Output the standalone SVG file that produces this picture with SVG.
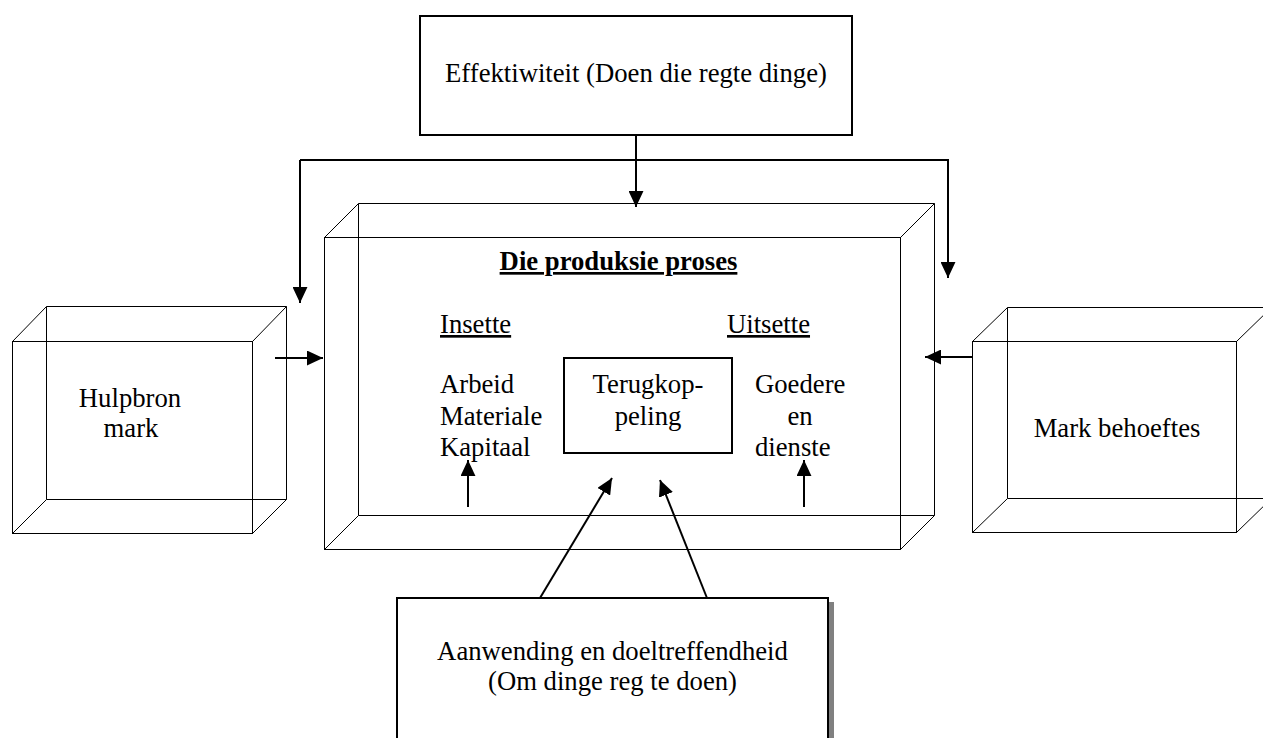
<svg xmlns="http://www.w3.org/2000/svg" width="1263" height="738" viewBox="0 0 1263 738">
  <defs>
    <marker id="arrow" markerUnits="userSpaceOnUse" markerWidth="16" markerHeight="15" viewBox="0 0 15 14" refX="15" refY="7" orient="auto">
      <path d="M0,0 L15,7 L0,14 Z" fill="#000"/>
    </marker>
    <style>
      text { font-family: "Liberation Serif", "Times New Roman", serif; font-size: 26.7px; fill: #000; }
      .mid { text-anchor: middle; }
      .ul { text-decoration: underline; }
      .bold { font-weight: bold; }
      .cube { fill: none; stroke: #000; stroke-width: 1; }
      .box { fill: #fff; stroke: #000; stroke-width: 2; }
      .conn { fill: none; stroke: #000; stroke-width: 2; marker-end: url(#arrow); }
    </style>
  </defs>
  <rect width="1263" height="738" fill="#fff"/>

  <!-- Effectiveness box -->
  <g id="effektiwiteit">
    <rect class="box" x="420" y="16" width="432" height="119"/>
    <text class="mid" x="636" y="82">Effektiwiteit (Doen die regte dinge)</text>
  </g>

  <!-- Central production process cube -->
  <g id="produksie-proses">
    <rect class="cube" x="324.5" y="237.5" width="576" height="312"/>
    <path class="cube" d="M358.5,203.5 H934.5 V515.5 H358.5 Z"/>
    <path class="cube" d="M324.5,237.5 L358.5,203.5 M900.5,237.5 L934.5,203.5 M900.5,549.5 L934.5,515.5 M324.5,549.5 L358.5,515.5"/>
    <text class="mid bold ul" x="618.5" y="270">Die produksie proses</text>
    <text class="ul" x="440" y="333">Insette</text>
    <text class="ul" x="727" y="333">Uitsette</text>
    <text x="440" y="393">Arbeid</text>
    <text x="440" y="425">Materiale</text>
    <text x="440" y="456">Kapitaal</text>
    <text x="755" y="393">Goedere</text>
    <text class="mid" x="800" y="425">en</text>
    <text x="755" y="456">dienste</text>
  </g>

  <!-- Feedback box -->
  <g id="terugkoppeling">
    <rect class="box" x="564" y="358" width="168" height="95"/>
    <text class="mid" x="648" y="393">Terugkop-</text>
    <text class="mid" x="648" y="425">peling</text>
  </g>

  <!-- Resource market cube -->
  <g id="hulpbron-mark">
    <rect class="cube" x="12.5" y="341.5" width="240" height="192"/>
    <path class="cube" d="M46.5,306.5 H286.5 V499.5 H46.5 Z"/>
    <path class="cube" d="M12.5,341.5 L46.5,306.5 M252.5,341.5 L286.5,306.5 M252.5,533.5 L286.5,499.5 M12.5,533.5 L46.5,499.5"/>
    <text class="mid" x="130" y="407">Hulpbron</text>
    <text class="mid" x="131" y="437">mark</text>
  </g>

  <!-- Market needs cube -->
  <g id="mark-behoeftes">
    <rect class="cube" x="972.5" y="341.5" width="264" height="191"/>
    <path class="cube" d="M1007.5,307.5 H1271.5 V498.5 H1007.5 Z"/>
    <path class="cube" d="M972.5,341.5 L1007.5,307.5 M1236.5,341.5 L1271.5,307.5 M1236.5,532.5 L1271.5,498.5 M972.5,532.5 L1007.5,498.5"/>
    <text class="mid" x="1117" y="437">Mark behoeftes</text>
  </g>

  <!-- Efficiency box with drop shadow -->
  <g id="aanwending">
    <rect x="829" y="602" width="5" height="140" fill="#808080"/>
    <rect class="box" x="397" y="598" width="431" height="150"/>
    <text class="mid" x="612.5" y="660">Aanwending en doeltreffendheid</text>
    <text class="mid" x="612.5" y="690">(Om dinge reg te doen)</text>
  </g>

  <!-- Connectors -->
  <g id="connectors">
    <line class="conn" x1="636" y1="135" x2="636" y2="207"/>
    <path class="conn" d="M300,160 H948 V278"/>
    <path class="conn" d="M300,160 V303"/>
    <line class="conn" x1="275" y1="358" x2="323" y2="358"/>
    <line class="conn" x1="972" y1="357" x2="925" y2="357"/>
    <line class="conn" x1="468" y1="507" x2="468" y2="460"/>
    <line class="conn" x1="804" y1="507" x2="804" y2="460"/>
    <line class="conn" x1="540" y1="598" x2="612" y2="478"/>
    <line class="conn" x1="707" y1="598" x2="660" y2="480"/>
  </g>
</svg>
